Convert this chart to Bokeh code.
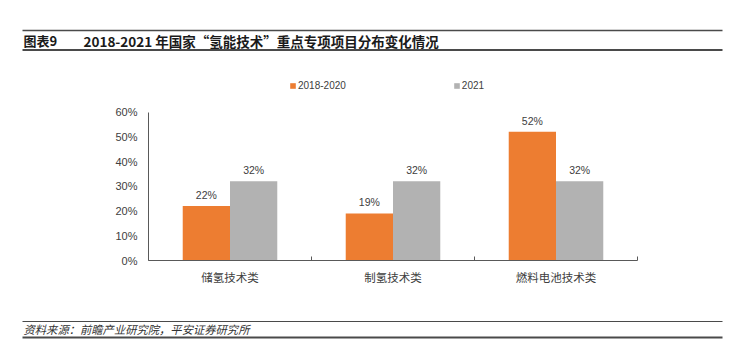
from bokeh.plotting import figure
from bokeh.models import (ColumnDataSource, Range1d, Label, Legend, LegendItem,
                          NumeralTickFormatter, LabelSet, LinearAxis, FixedTicker,
                          BoxAnnotation)
from bokeh.core.properties import value
from bokeh.embed import file_html
from bokeh.resources import INLINE

categories = ["储氢技术类", "制氢技术类", "燃料电池技术类"]
series_names = ["2018-2020", "2021"]
values_2018_2020 = [0.22, 0.19, 0.52]
values_2021 = [0.32, 0.32, 0.32]
y_ticks = [0, 0.1, 0.2, 0.3, 0.4, 0.5, 0.6]

title_no = "图表9"
title_text = "2018-2021 年国家“氢能技术”重点专项项目分布变化情况"
source_text = "资料来源：前瞻产业研究院，平安证券研究所"

FONT = "'Liberation Sans', 'Noto Sans CJK SC', sans-serif"
CJK = "'Noto Sans CJK SC', 'Liberation Sans', sans-serif"
ORANGE = "#ED7D31"
GRAY = "#B2B2B2"
TXT = "#404040"
RULE = "#4a4a4a"
AXIS = "#595959"

# canvas geometry (pixels): the frame covers the whole figure, the axes are
# pinned to the data origin with fixed_location
W, H = 730, 350
PLOT_L, PLOT_R, PLOT_T, PLOT_B = 148, 637, 111.5, 260
n = len(categories)
ymax = y_ticks[-1]
px_x = (PLOT_R - PLOT_L) / n
px_y = (PLOT_B - PLOT_T) / ymax

p = figure(width=W, height=H,
           x_range=Range1d(-PLOT_L / px_x, n + (W - PLOT_R) / px_x),
           y_range=Range1d(-(H - PLOT_B) / px_y, ymax + PLOT_T / px_y),
           output_backend="svg", toolbar_location=None, tools="",
           x_axis_location=None, y_axis_location=None, min_border=0)
p.xgrid.grid_line_color = None
p.ygrid.grid_line_color = None
p.outline_line_color = None

bw = 0.29
centers = [i + 0.5 for i in range(n)]
src = ColumnDataSource(dict(
    xa=[c - bw / 2 for c in centers],
    xb=[c + bw / 2 for c in centers],
    a=values_2018_2020,
    b=values_2021,
    a_lbl=[f"{round(v*100)}%" for v in values_2018_2020],
    b_lbl=[f"{round(v*100)}%" for v in values_2021],
))

ra = p.vbar(x="xa", top="a", width=bw, source=src, color=ORANGE, line_color=None)
rb = p.vbar(x="xb", top="b", width=bw, source=src, color=GRAY, line_color=None)

for xcol, col, lbl in (("xa", "a", "a_lbl"), ("xb", "b", "b_lbl")):
    p.add_layout(LabelSet(x=xcol, y=col, text=lbl, source=src, text_align="center",
                          text_baseline="bottom", y_offset=5, text_font=value(FONT),
                          text_font_size="10.5px", text_color=TXT))

# y axis
yaxis = LinearAxis(ticker=FixedTicker(ticks=y_ticks), fixed_location=0,
                   bounds=(0, ymax), formatter=NumeralTickFormatter(format="0%"),
                   axis_line_color=AXIS, major_tick_line_color=None,
                   minor_tick_line_color=None, major_label_text_color=TXT,
                   major_label_text_font=FONT, major_label_text_font_size="11px",
                   major_label_standoff=5)
p.add_layout(yaxis, "left")

# x axis line with ticks between categories
edge_axis = LinearAxis(ticker=FixedTicker(ticks=list(range(n + 1))), fixed_location=0,
                       bounds=(0, n), major_tick_in=4, major_tick_out=0,
                       major_tick_line_color=AXIS, minor_tick_line_color=None,
                       axis_line_color=AXIS, major_label_text_alpha=0,
                       major_label_text_font_size="1px", major_label_standoff=0)
# category labels
cat_axis = LinearAxis(ticker=FixedTicker(ticks=centers), fixed_location=0,
                      bounds=(0, n),
                      major_label_overrides={c: name for c, name in zip(centers, categories)},
                      axis_line_color=None, major_tick_line_color=None,
                      minor_tick_line_color=None, major_label_text_color=TXT,
                      major_label_text_font=CJK, major_label_text_font_size="11.5px",
                      major_label_standoff=2)
p.add_layout(edge_axis, "below")
p.add_layout(cat_axis, "below")

legend = Legend(items=[LegendItem(label=series_names[0], renderers=[ra]),
                       LegendItem(label=series_names[1], renderers=[rb])],
                orientation="horizontal", location=(289, H - 91),
                spacing=107, glyph_width=7, glyph_height=7, label_standoff=2,
                label_text_font=FONT, label_text_font_size="10px",
                label_text_color=TXT, border_line_color=None,
                background_fill_alpha=0, padding=0, margin=0, label_height=10)
p.add_layout(legend, "center")


def rule(page_y, thickness):
    p.add_layout(BoxAnnotation(left=22, right=722, top=H - page_y + thickness / 2,
                               bottom=H - page_y - thickness / 2,
                               left_units="screen", right_units="screen",
                               top_units="screen", bottom_units="screen",
                               fill_color=RULE, fill_alpha=1, line_color=None,
                               level="overlay"))


def text(x, page_y, s, font, size, style, color):
    p.add_layout(Label(x=x, y=H - page_y, x_units="screen", y_units="screen", text=s,
                       text_font=font, text_font_style=style, text_font_size=size,
                       text_color=color, text_baseline="middle"))


# header
rule(30, 1.5)
rule(49.5, 2)
text(23, 40, title_no, CJK, "13px", "bold", "#1a1a1a")
text(83, 40, title_text, CJK, "13.5px", "bold", "#1a1a1a")
# footer
rule(321, 1)
rule(337, 2)
text(23, 328.5, source_text, CJK, "11.3px", "italic", "#333333")

open("out.html", "w").write(file_html(p, INLINE))
